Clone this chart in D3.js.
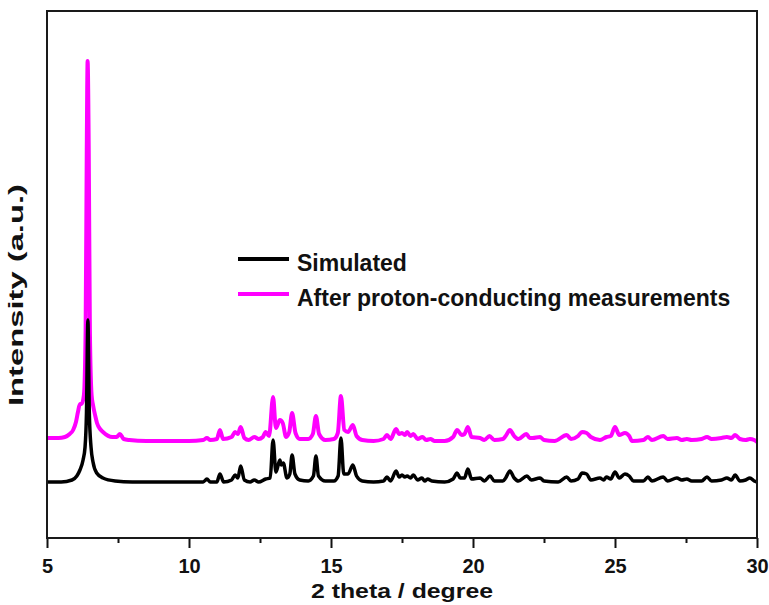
<!DOCTYPE html>
<html lang="en">
<head>
    <meta charset="UTF-8">
    <title>PXRD: simulated vs after proton-conducting measurements</title>
    <script src="https://d3js.org/d3.v7.min.js"></script>
    <style>
        body { margin: 0; background: #fff; }
        text { font-family: "Liberation Sans", Arial, sans-serif; font-weight: bold; fill: #111; }
    </style>
</head>
<body>
    <div id="my_dataviz"></div>

    <script>
        // 2 theta (degree), intensity (a.u.)
        var simulated = [
            [5.0,56],[5.5,56],[5.88,58],[6.05,62],[6.16,68],[6.27,78],[6.34,91],[6.39,125],[6.44,218],
            [6.49,125],[6.55,91],[6.62,76],[6.75,65],[6.97,60],[7.4,57],[8.0,56],[10.5,56],[10.63,59],
            [10.75,56],[10.98,56],[11.09,64],[11.22,56],[11.5,58],[11.62,63],[11.72,60],[11.82,72],
            [11.95,58],[12.15,56],[12.3,58],[12.45,56],[12.7,59],[12.86,60],[12.96,98],[13.06,66],
            [13.2,78],[13.25,73],[13.32,75],[13.45,60],[13.55,64],[13.63,83],[13.73,64],[13.9,58],
            [14.2,57],[14.38,62],[14.47,82],[14.56,62],[14.8,57],[15.1,57],[15.25,62],[15.35,100],
            [15.45,64],[15.6,64],[15.77,73],[15.9,62],[16.1,57],[16.5,56],[16.85,57],[16.97,61],
            [17.1,57],[17.29,67],[17.4,61],[17.5,63],[17.6,61],[17.68,62],[17.8,60],[17.9,63],
            [18.05,58],[18.2,60],[18.3,57],[18.4,59],[18.55,57],[19.0,56],[19.3,59],[19.44,65],
            [19.55,60],[19.7,60],[19.82,69],[19.95,59],[20.25,60],[20.4,57],[20.6,62],[20.75,57],
            [21.05,57],[21.15,60],[21.3,67],[21.45,60],[21.6,57],[21.9,62],[22.05,58],[22.36,60],
            [22.5,57],[23.0,56],[23.3,61],[23.45,57],[23.7,59],[23.84,65],[24.0,64],[24.15,58],
            [24.47,60],[24.6,58],[24.7,61],[24.85,59],[25.0,66],[25.15,60],[25.35,64],[25.5,62],
            [25.65,57],[26.0,57],[26.16,61],[26.3,57],[26.7,61],[26.85,57],[27.18,60],[27.35,58],
            [27.53,59],[27.7,57],[28.05,57],[28.24,61],[28.4,57],[28.75,58],[28.94,60],[29.1,58],
            [29.23,63],[29.4,57],[29.6,58],[29.75,60],[29.9,57],[30.0,56]
        ];

        var afterMeasure = [
            [5.0,100],[5.4,100],[5.63,101],[5.8,104],[5.92,108],[6.02,116],[6.09,126],[6.16,134],
            [6.22,134],[6.3,143],[6.36,208],[6.4,388],[6.43,477],[6.47,388],[6.51,208],[6.57,143],
            [6.62,133],[6.7,122],[6.76,115],[6.87,109],[6.97,106],[7.3,101],[7.45,101],[7.57,104],
            [7.7,99],[7.9,98],[8.5,97],[10.0,97],[10.5,98],[10.63,100],[10.75,98],[10.98,99],
            [11.09,108],[11.2,99],[11.5,101],[11.62,106],[11.72,104],[11.82,111],[11.95,100],
            [12.1,98],[12.3,101],[12.45,99],[12.6,101],[12.7,106],[12.82,102],[12.96,141],[13.06,110],
            [13.2,118],[13.3,115],[13.42,101],[13.53,106],[13.63,125],[13.75,105],[13.9,99],[14.2,99],
            [14.36,104],[14.47,122],[14.58,104],[14.8,98],[15.1,99],[15.24,105],[15.35,142],[15.47,108],
            [15.6,106],[15.77,113],[15.9,102],[16.1,98],[16.5,97],[16.85,99],[16.97,103],[17.1,99],
            [17.29,109],[17.4,104],[17.5,105],[17.6,103],[17.68,106],[17.8,102],[17.9,104],[18.05,99],
            [18.22,101],[18.35,98],[18.5,99],[18.65,97],[19.0,97],[19.3,101],[19.44,108],[19.6,103],
            [19.7,104],[19.82,111],[19.95,101],[20.25,100],[20.4,98],[20.58,102],[20.75,98],[21.05,99],
            [21.15,102],[21.3,108],[21.45,102],[21.6,99],[21.88,104],[22.0,100],[22.1,100],[22.36,101],
            [22.5,98],[22.87,97],[23.3,103],[23.45,99],[23.7,102],[23.84,106],[24.0,105],[24.15,101],
            [24.47,98],[24.7,101],[24.85,102],[25.0,111],[25.15,103],[25.35,105],[25.5,102],[25.6,97],
            [26.0,98],[26.16,101],[26.3,98],[26.7,102],[26.85,99],[27.18,100],[27.35,98],[27.53,99],
            [27.7,98],[28.05,99],[28.24,101],[28.4,99],[28.75,100],[28.94,101],[29.1,100],[29.23,103],
            [29.4,99],[29.6,98],[29.75,99],[29.9,98],[30.0,96]
        ];

        var xTicks = [5, 10, 15, 20, 25, 30];
        var xMinorTicks = [7.5, 12.5, 17.5, 22.5, 27.5];
        var legendLabels = ["Simulated", "After proton-conducting measurements"];
        var seriesColors = ["#000000", "#ff00ff"];

        var margin = {top: 11, right: 12, bottom: 67, left: 47};
        var width = 769 - margin.left - margin.right;
        var height = 605 - margin.top - margin.bottom;

        var svg = d3.select("#my_dataviz")
            .append("svg")
            .attr("width", 769)
            .attr("height", 605)
            .append("g")
            .attr("transform", "translate(" + margin.left + "," + margin.top + ")");

        var x = d3.scaleLinear().domain([5, 30]).range([0, width]);
        var y = d3.scaleLinear().domain([0, 527]).range([height, 0]);

        svg.append("clipPath").attr("id", "clip")
            .append("rect").attr("width", width).attr("height", height);

        var line = d3.line()
            .x(function(d) { return x(d[0]); })
            .y(function(d) { return y(d[1]); })
            .curve(d3.curveMonotoneX);

        // pink first, black drawn on top
        svg.append("path")
            .datum(afterMeasure)
            .attr("clip-path", "url(#clip)")
            .attr("fill", "none")
            .attr("stroke", seriesColors[1])
            .attr("stroke-width", 4)
            .attr("stroke-linejoin", "round")
            .attr("d", line);

        svg.append("path")
            .datum(simulated)
            .attr("clip-path", "url(#clip)")
            .attr("fill", "none")
            .attr("stroke", seriesColors[0])
            .attr("stroke-width", 3.5)
            .attr("stroke-linejoin", "round")
            .attr("d", line);

        // minor ticks
        svg.append("g")
            .attr("transform", "translate(0," + height + ")")
            .call(d3.axisBottom(x).tickValues(xMinorTicks).tickSize(5).tickFormat(""))
            .call(function(g) { g.select(".domain").remove(); })
            .selectAll("line").attr("stroke", "#111").attr("stroke-width", 2);

        // major ticks + labels
        var xAxis = svg.append("g")
            .attr("transform", "translate(0," + height + ")")
            .call(d3.axisBottom(x).tickValues(xTicks).tickSize(10).tickSizeOuter(0).tickPadding(11));
        xAxis.select(".domain").remove();
        xAxis.selectAll("line").attr("stroke", "#111").attr("stroke-width", 2);
        xAxis.selectAll("text")
            .style("font-family", "'Liberation Sans', Arial, sans-serif")
            .style("font-weight", "bold")
            .style("font-size", "20px")
            .attr("fill", "#111");

        // frame
        svg.append("rect")
            .attr("width", width)
            .attr("height", height)
            .attr("fill", "none")
            .attr("stroke", "#1a1a1a")
            .attr("stroke-width", 2);

        // axis titles
        svg.append("text")
            .attr("x", width / 2)
            .attr("y", height + 60)
            .attr("text-anchor", "middle")
            .style("font-size", "21px")
            .attr("textLength", 182)
            .attr("lengthAdjust", "spacingAndGlyphs")
            .text("2 theta / degree");

        svg.append("text")
            .attr("transform", "translate(" + (23 - margin.left) + "," + (295 - margin.top) + ") rotate(-90)")
            .attr("text-anchor", "middle")
            .style("font-size", "21px")
            .attr("textLength", 222)
            .attr("lengthAdjust", "spacingAndGlyphs")
            .text("Intensity (a.u.)");

        // legend
        var legend = svg.append("g")
            .attr("transform", "translate(" + (238 - margin.left) + "," + (259 - margin.top) + ")");
        legendLabels.forEach(function(label, i) {
            legend.append("line")
                .attr("x1", 0).attr("x2", 51)
                .attr("y1", i * 35).attr("y2", i * 35)
                .attr("stroke", seriesColors[i])
                .attr("stroke-width", 4);
            legend.append("text")
                .attr("x", 59)
                .attr("y", i * 35 + 12)
                .style("font-size", "23px")
                .text(label);
        });
    </script>
</body>
</html>
